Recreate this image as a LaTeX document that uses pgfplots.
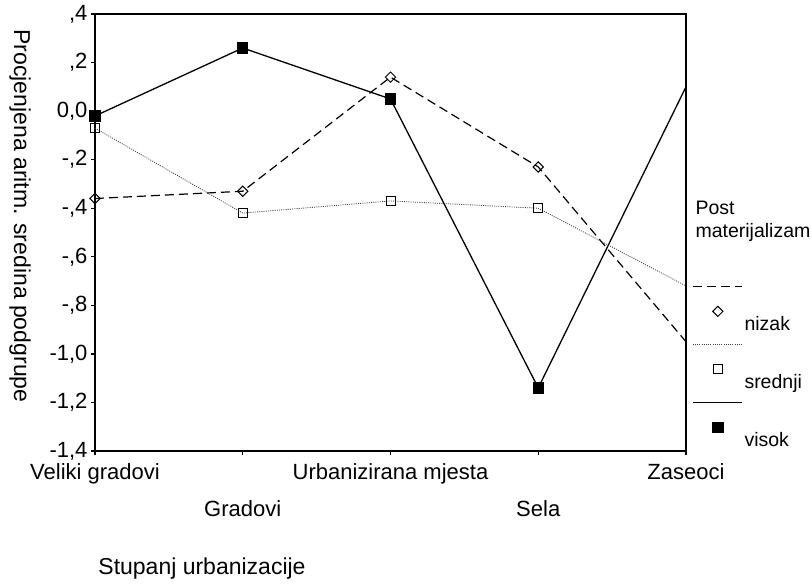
\documentclass[border=0pt]{standalone}
\usepackage{fontspec}
\setmainfont{Liberation Sans}
\usepackage{pgfplots}
\pgfplotsset{compat=1.18}
\begin{document}
\begin{tikzpicture}[x=1pt,y=1pt]
\useasboundingbox (0,0) rectangle (811,-584);
\begin{axis}[
  at={(95pt,-451pt)}, anchor=south west,
  width=591pt, height=437pt, scale only axis,
  xmin=0, xmax=4, ymin=-1.4, ymax=0.4,
  axis line style={line width=1.4pt},
  xtick={0,1,2,3,4},
  xticklabels={Veliki gradovi, \raisebox{-37pt}{Gradovi}, Urbanizirana mjesta, \raisebox{-37pt}{Sela}, Zaseoci},
  ytick={-1.4,-1.2,-1.0,-0.8,-0.6,-0.4,-0.2,0,0.2,0.4},
  yticklabels={{-1,4},{-1,2},{-1,0},{-,8},{-,6},{-,4},{-,2},{0,0},{,2},{,4}},
  xtick pos=lower, ytick pos=left,
  tick align=outside, major tick length=4pt,
  tick style={line width=1.4pt, black},
  tick label style={font=\fontsize{22}{26}\selectfont},
  xticklabel style={anchor=base, yshift=-24pt},
  clip=false,
  legend style={draw=none, fill=none, at={(rel axis cs:1,0.375)}, anchor=north west,
    xshift=6pt, yshift=5pt, inner sep=0pt, row sep=0pt, font=\fontsize{19.5}{22}\selectfont,
    cells={anchor=base west, inner sep=0pt},
    /tikz/every even column/.append style={column sep=2pt}},
  legend cell align=left,
  legend image code/.code={
    \path[draw=none, fill=none] (0pt,-29pt) -- (0pt,29pt);
    \draw[#1, mark=none] (-25pt,25pt) -- (24pt,25pt);
    \path[#1] plot coordinates {(0pt,0pt)};
  },
]
\addplot[black, line width=1.2pt, dash pattern=on 9pt off 5pt,
  mark=square, mark size=3.6pt, mark options={solid, rotate=45, fill=white, line width=1pt},
  mark indices={1,2,3,4}]
  coordinates {(0,-0.36) (1,-0.33) (2,0.14) (3,-0.23) (4,-0.95)};
\addlegendentry{\raisebox{-20pt}[0pt][0pt]{nizak}}
\addplot[black!75, line width=0.8pt, dash pattern=on 1pt off 1.2pt,
  mark=square, mark size=4.5pt, mark options={solid, fill=white, draw=black, line width=1pt},
  mark indices={1,2,3,4}]
  coordinates {(0,-0.07) (1,-0.42) (2,-0.37) (3,-0.40) (4,-0.72)};
\addlegendentry{\raisebox{-20pt}[0pt][0pt]{srednji}}
\addplot[black, line width=1.3pt,
  mark=square*, mark size=5pt, mark options={solid, fill=black},
  mark indices={1,2,3,4}]
  coordinates {(0,-0.02) (1,0.26) (2,0.05) (3,-1.14) (4,0.10)};
\addlegendentry{\raisebox{-20pt}[0pt][0pt]{visok}}
\end{axis}
\node[rotate=-90, font=\fontsize{23}{26}\selectfont] at (20,-216) {Procjenjena aritm. sredina podgrupe};
\node[font=\fontsize{23}{26}\selectfont] at (202,-569) {Stupanj urbanizacije};
\node[anchor=base west, font=\fontsize{19.5}{22}\selectfont] at (692,-214) {Post};
\node[anchor=base west, font=\fontsize{19.5}{22}\selectfont] at (692,-237) {materijalizam};
\end{tikzpicture}
\end{document}
